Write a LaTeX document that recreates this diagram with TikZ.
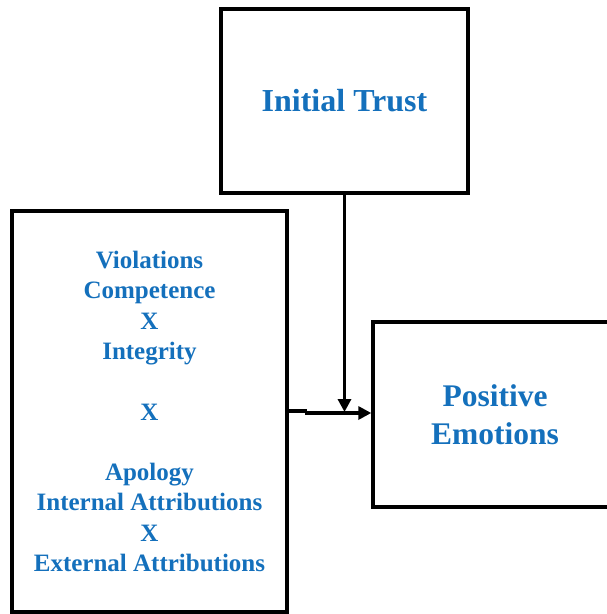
\documentclass[tikz,border=0pt]{standalone}
\usepackage{fontspec}
\setmainfont{Liberation Serif}
\usetikzlibrary{arrows.meta}
\definecolor{txtblue}{RGB}{20,112,188}
\tikzset{
  box/.style={draw=black, line width=3.4pt, rectangle, inner sep=0pt, align=center, text=txtblue},
  conn/.style={draw=black, line width=3.2pt},
  arr/.style={conn, -{Triangle[length=13pt,width=13pt]}}
}
\begin{document}
\begin{tikzpicture}[x=1pt,y=-1pt]
\useasboundingbox (0,0) rectangle (607,614);
\clip (0,0) rectangle (607,614);
\fill[white] (0,0) rectangle (607,614);
\node[box, minimum width=247pt, minimum height=184pt, font=\bfseries\fontsize{32}{38}\selectfont] (T) at (344.5,101) {Initial Trust};
\node[box, minimum width=275pt, minimum height=401pt, font=\bfseries\fontsize{25}{30.3}\selectfont] (L) at (149.5,411.5)
  {Violations\\Competence\\X\\Integrity\\[30.3pt]X\\[30.3pt]Apology\\Internal Attributions\\X\\External Attributions};
\node[box, minimum width=244pt, minimum height=185pt, font=\bfseries\fontsize{31.5}{38}\selectfont] (R) at (495,414.5) {Positive\\Emotions};
\coordinate (j1) at (307,411);
\coordinate (j2) at (305,413);
\draw[conn] (L.east |- j1) -- (j1);
\draw[arr] (j2) -- (R.west |- j2);
\coordinate (m) at (344.5,412);
\draw[arr] (T.south) -- (m);
\end{tikzpicture}
\end{document}
